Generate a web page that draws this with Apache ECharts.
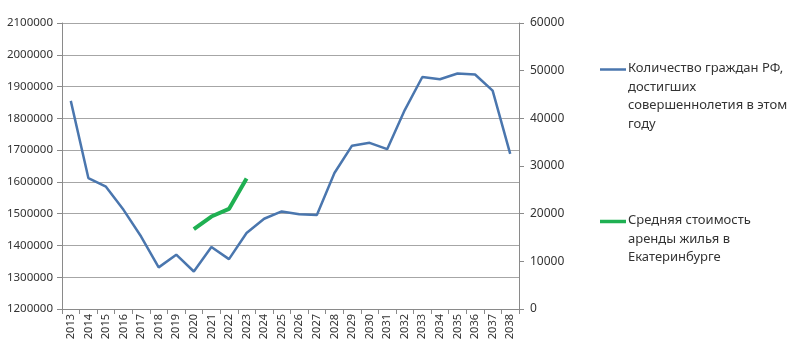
<!DOCTYPE html>
<html><head><meta charset="utf-8">
<script src="https://cdn.jsdelivr.net/npm/echarts@6/dist/echarts.min.js"></script>
<style>html,body{margin:0;padding:0;background:#fff}#c{width:800px;height:356px}</style>
</head><body><div id="c"></div>
<script>
const years = ['2013','2014','2015','2016','2017','2018','2019','2020','2021','2022','2023','2024','2025','2026','2027','2028','2029','2030','2031','2032','2033','2034','2035','2036','2037','2038'];
const adults = [1855000,1612000,1585000,1512000,1428000,1331000,1371000,1318000,1395000,1357000,1439000,1484000,1507000,1498000,1496000,1628000,1714000,1723000,1703000,1826000,1930000,1923000,1941000,1938000,1887000,1688000];
const rent = [null,null,null,null,null,null,null,16750,19400,21000,27400,null,null,null,null,null,null,null,null,null,null,null,null,null,null,null];
const leftTicks = {min:1200000, max:2100000, step:100000};
const rightTicks = {min:0, max:60000, step:10000};
const name1 = 'Количество граждан РФ, достигших совершеннолетия в этом году';
const name2 = 'Средняя стоимость аренды жилья в Екатеринбурге';
const legend1 = ['Количество граждан РФ,','достигших','совершеннолетия в этом','году'];
const legend2 = ['Средняя стоимость','аренды жилья в','Екатеринбурге'];

const blue = '#4a76ae', green = '#1fb052';
const font = 'Noto Sans';
const plain = v => String(v);
const chart = echarts.init(document.getElementById('c'), null, {renderer:'canvas'});
chart.setOption({
  backgroundColor: '#fff',
  animation: false,
  textStyle: {fontFamily: font},
  grid: {left: 62, right: 281, top: 23, bottom: 47, containLabel: false},
  xAxis: {
    type: 'category', data: years, boundaryGap: true,
    axisLine: {lineStyle: {color: '#8a8a8a', width: 1}},
    axisTick: {show: true, length: 5, lineStyle: {color: '#8a8a8a'}},
    axisLabel: {rotate: 90, margin: 5, fontSize: 11, color: '#333', fontFamily: font, interval: 0}
  },
  yAxis: [{
    type: 'value', min: leftTicks.min, max: leftTicks.max, interval: leftTicks.step,
    axisLine: {show: true, lineStyle: {color: '#8a8a8a'}},
    axisTick: {show: true, length: 5, lineStyle: {color: '#8a8a8a'}},
    axisLabel: {fontSize: 11.5, color: '#333', margin: 9, fontFamily: font, formatter: plain},
    splitLine: {show: true, lineStyle: {color: '#a6a6a6', width: 1}}
  }, {
    type: 'value', position: 'right', min: rightTicks.min, max: rightTicks.max, interval: rightTicks.step,
    axisLine: {show: true, lineStyle: {color: '#8a8a8a'}},
    axisTick: {show: true, length: 5, lineStyle: {color: '#8a8a8a'}},
    axisLabel: {fontSize: 12, color: '#333', margin: 11, fontFamily: font, formatter: plain},
    splitLine: {show: false}
  }],
  series: [{
    name: name1, type: 'line', yAxisIndex: 0, data: adults,
    symbol: 'none', lineStyle: {color: blue, width: 2.5}, itemStyle: {color: blue}
  }, {
    name: name2, type: 'line', yAxisIndex: 1, data: rent,
    symbol: 'none', connectNulls: false, lineStyle: {color: green, width: 4}, itemStyle: {color: green}
  }],
  graphic: [
    {type: 'line', shape: {x1: 600, y1: 69.5, x2: 626, y2: 69.5}, style: {stroke: blue, lineWidth: 2.5}},
    {type: 'text', left: 628, top: 59, style: {text: legend1.join('\n'), fontSize: 13, lineHeight: 18.6, fill: '#333', fontFamily: font}},
    {type: 'line', shape: {x1: 600, y1: 221.5, x2: 626, y2: 221.5}, style: {stroke: green, lineWidth: 3.5}},
    {type: 'text', left: 628, top: 211, style: {text: legend2.join('\n'), fontSize: 13, lineHeight: 18.6, fill: '#333', fontFamily: font}}
  ]
});
</script></body></html>
